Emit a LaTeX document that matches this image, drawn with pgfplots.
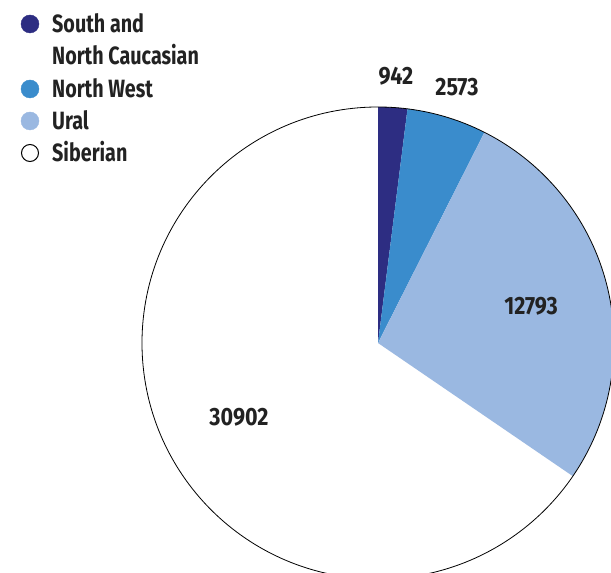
\documentclass[border=0pt]{standalone}
\usepackage{pgfplots}
\pgfplotsset{compat=1.18}
\usepackage{fontspec}
\setmainfont[FakeStretch=0.79]{Fira Sans}
\newfontfamily\numfont[FakeStretch=0.86]{Fira Sans}
\definecolor{cSouth}{RGB}{45,45,130}
\definecolor{cNW}{RGB}{58,140,204}
\definecolor{cUral}{RGB}{154,184,225}
\definecolor{txt}{RGB}{34,34,34}
\tikzset{lbl/.style={font=\fontsize{25}{29}\selectfont\bfseries, text=txt},
         num/.style={font=\numfont\fontsize{25}{29}\selectfont\bfseries, text=txt}}
\begin{document}
\begin{tikzpicture}
\def\vA{942}\def\vB{2573}\def\vC{12793}\def\vD{30902}
\edef\tot{\fpeval{\vA+\vB+\vC+\vD}}
\edef\aA{\fpeval{round(90-360*\vA/\tot,4)}}
\edef\aB{\fpeval{round(\aA-360*\vB/\tot,4)}}
\edef\aC{\fpeval{round(\aB-360*\vC/\tot,4)}}
\begin{axis}[
  scale only axis, width=611pt, height=573pt,
  xmin=0, xmax=611, ymin=0, ymax=573,
  hide axis, clip=true, clip mode=global,
]
% pie slices (centre 378,230; radius 236)
\fill[white] (axis cs:378,230) -- ++(90:236pt) arc[start angle=90, end angle=-270, radius=236pt] -- cycle;
\fill[cSouth] (axis cs:378,230) -- ++(90:236pt) arc[start angle=90, end angle=\aA, radius=236pt] -- cycle;
\fill[cNW] (axis cs:378,230) -- ++(\aA:236pt) arc[start angle=\aA, end angle=\aB, radius=236pt] -- cycle;
\fill[cUral] (axis cs:378,230) -- ++(\aB:236pt) arc[start angle=\aB, end angle=\aC, radius=236pt] -- cycle;
\draw[black, line width=0.8pt] (axis cs:378,230) circle[radius=236pt];
% value labels
\node[num] at (axis cs:396,497) {942};
\node[num] at (axis cs:457,486) {2573};
\node[num] at (axis cs:531,267) {12793};
\node[num] at (axis cs:239,156) {30902};
% legend markers
\addplot[only marks, mark=*, mark size=9pt, mark options={fill=cSouth, draw=cSouth}] coordinates {(30,549)};
\addplot[only marks, mark=*, mark size=9pt, mark options={fill=cNW, draw=cNW}] coordinates {(30,484)};
\addplot[only marks, mark=*, mark size=9pt, mark options={fill=cUral, draw=cUral}] coordinates {(30,452)};
\addplot[only marks, mark=*, mark size=8.5pt, mark options={fill=white, draw=black, line width=1pt}] coordinates {(30,420)};
% legend text
\node[lbl, anchor=base west, inner sep=0pt] at (axis cs:52,540) {South and};
\node[lbl, anchor=base west, inner sep=0pt] at (axis cs:52,508) {North Caucasian};
\node[lbl, anchor=base west, inner sep=0pt] at (axis cs:52,475) {North West};
\node[lbl, anchor=base west, inner sep=0pt] at (axis cs:52,443) {Ural};
\node[lbl, anchor=base west, inner sep=0pt] at (axis cs:52,411) {Siberian};
\end{axis}
\pgfresetboundingbox
\useasboundingbox (current axis.south west) rectangle (current axis.north east);
\end{tikzpicture}
\end{document}
